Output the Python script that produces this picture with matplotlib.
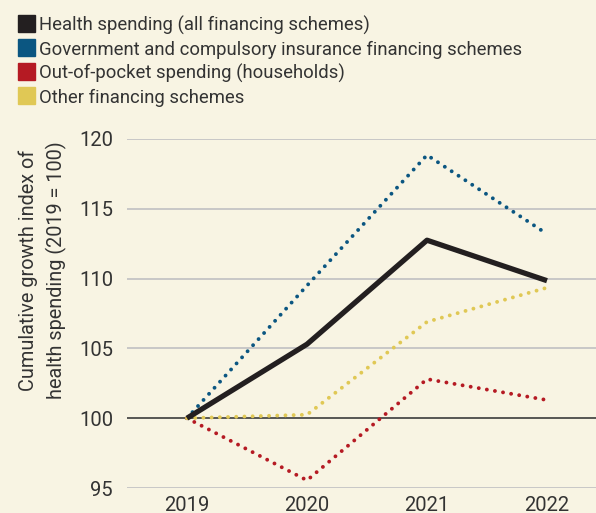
import numpy as np
import matplotlib.pyplot as plt
from matplotlib.patches import Rectangle

# datos (indice 2019 = 100)
years = [2019, 2020, 2021, 2022]
health_total = [100, 105.3, 112.75, 109.85]
gov_compulsory = [100, 109.5, 118.85, 113.2]
out_of_pocket = [100, 95.55, 102.8, 101.3]
other_schemes = [100, 100.25, 106.9, 109.35]

legend_labels = ['Health spending (all financing schemes)',
                 'Government and compulsory insurance financing schemes',
                 'Out-of-pocket spending (households)',
                 'Other financing schemes']
yticks = [95, 100, 105, 110, 115, 120]

bg = '#F8F4E3'
c_black = '#231F20'
c_blue = '#0B5681'
c_red = '#B51A23'
c_yellow = '#E0C855'
txt = '#333333'

plt.rcParams['font.family'] = ['Roboto', 'DejaVu Sans']

W, H = 596, 513
fig = plt.figure(figsize=(W/100, H/100), dpi=100, facecolor=bg)
ax = fig.add_axes([127/W, 1 - 488/H, (W - 127)/W, (488 - 139)/H])
ax.set_facecolor(bg)

for v in yticks:
    if v == 100:
        ax.axhline(v, color='#4A4A48', lw=1.3, zorder=1)
    else:
        ax.axhline(v, color='#C4C4C4', lw=1.3, zorder=1)

# lineas punteadas (puntos redondos)
dots = (0, (0.01, 2.1))
ax.plot(years, gov_compulsory, color=c_blue, lw=2.8, ls=dots, dash_capstyle='round', zorder=3)
ax.plot(years, out_of_pocket, color=c_red, lw=2.8, ls=dots, dash_capstyle='round', zorder=3)
ax.plot(years, other_schemes, color=c_yellow, lw=2.8, ls=dots, dash_capstyle='round', zorder=3)
ax.plot(years, health_total, color=c_black, lw=3.8, solid_capstyle='butt', zorder=4)

ax.set_xlim(2018.5, 2018.5 + (W - 127)/120)
ax.set_ylim(95, 120)
ax.set_yticks(yticks)
ax.set_xticks(years)
ax.tick_params(length=0, labelsize=14.5, labelcolor=txt, pad=10)
ax.tick_params(axis='x', pad=6)
for s in ax.spines.values():
    s.set_visible(False)

fig.text(43/W, 1 - 270/H, 'Cumulative growth index of\nhealth spending (2019 = 100)',
         rotation=90, ha='center', va='center', fontsize=14.3, color=txt,
         linespacing=1.5, multialignment='center')

# leyenda manual con cuadraditos
leg_colors = [c_black, c_blue, c_red, c_yellow]
for i in range(4):
    yc = 23.5 + 24*i
    fig.patches.append(Rectangle((18/W, 1 - (yc + 8.3)/H), 16.7/W, 16.7/H,
                                 transform=fig.transFigure, color=leg_colors[i]))
    fig.text(39/W, 1 - yc/H, legend_labels[i], ha='left', va='center_baseline',
             fontsize=13.3, color=txt)

fig.savefig('out.png', dpi=100, facecolor=bg)
